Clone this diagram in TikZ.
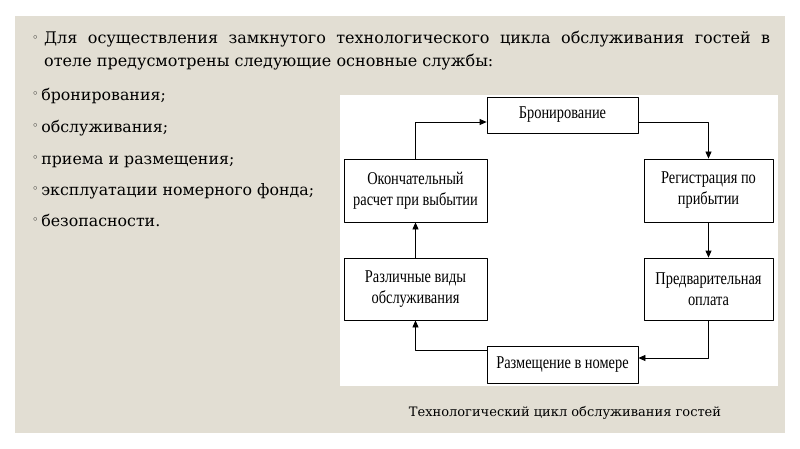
\documentclass[tikz,border=0pt]{standalone}
\usepackage{fontspec}
\setmainfont{DejaVu Serif}
\newfontfamily\boxfont[FakeStretch=0.8]{Liberation Serif}
\newfontfamily\bulletfont{DejaVu Sans}
\usetikzlibrary{arrows.meta, calc, positioning}
\definecolor{panelbeige}{RGB}{226,222,211}

\newcommand{\mybullet}{\raisebox{3pt}{\bulletfont\fontsize{11}{11}\selectfont ◦}}

\begin{document}
\begin{tikzpicture}[x=1pt, y=-1pt, line cap=round, line join=round, >={Triangle[length=7pt,width=6pt]},
	cycbox/.style={draw=black, line width=0.8pt, fill=white, inner sep=0pt, align=center,
		font=\boxfont\fontsize{18}{21}\selectfont},
	bulletline/.style={anchor=base west, inner sep=0pt, font=\fontsize{15.8}{15.8}\selectfont},
	cycarrow/.style={->, line width=0.8pt, black}]
	% page and panel
	\useasboundingbox (0,0) rectangle (800,449);
	\fill[white] (0,0) rectangle (800,449);
	\fill[panelbeige] (15,16) rectangle (785,433);
	
	% heading paragraph
	\node[anchor=base west, inner sep=0pt] (b0) at (32,45) {\mybullet};
	\node[anchor=north west, inner sep=0pt, text width=726pt, align=justify,
		font=\fontsize{16}{23}\selectfont] (head) at (44,31)
		{Для осуществления замкнутого технологического цикла обслуживания гостей в\linebreak отеле предусмотрены следующие основные службы:};
	
	% list of services
	\node[bulletline] (b1) at (32,101) {\mybullet\,бронирования;};
	\node[bulletline] (b2) at (32,133) {\mybullet\,обслуживания;};
	\node[bulletline] (b3) at (32,165) {\mybullet\,приема и размещения;};
	\node[bulletline] (b4) at (32,196) {\mybullet\,эксплуатации номерного фонда;};
	\node[bulletline] (b5) at (32,226) {\mybullet\,безопасности.};
	
	% white area of the scheme
	\fill[white] (340,95) rectangle (778,386);
	
	% boxes of the cycle
	\node[cycbox, minimum width=151pt, minimum height=36pt] (bron) at (562.5,115) {Бронирование};
	\node[cycbox, minimum width=129pt, minimum height=63pt] (reg) at (708.5,190.5) {Регистрация по\\прибытии};
	\node[cycbox, minimum width=129pt, minimum height=62pt] (pred) at (708.5,289) {Предварительная\\оплата};
	\node[cycbox, minimum width=151pt, minimum height=37pt] (razm) at (562.5,364.5) {Размещение в номере};
	\node[cycbox, minimum width=143pt, minimum height=62pt] (razl) at (415.5,289) {Различные виды\\обслуживания};
	\node[cycbox, minimum width=143pt, minimum height=63pt] (okon) at (415.5,190.5) {Окончательный\\расчет при выбытии};
	
	% connectors
	\coordinate (bronL) at ($(bron.west)+(0,7)$);
	\coordinate (bronR) at ($(bron.east)+(0,7)$);
	\coordinate (razmL) at ($(razm.west)+(0,-14)$);
	\coordinate (razmR) at ($(razm.east)+(0,-6.5)$);
	\draw[cycarrow] (bronR) -| (reg.north);
	\draw[cycarrow] (reg.south) -- (pred.north);
	\draw[cycarrow] (pred.south) |- (razmR);
	\draw[cycarrow] (razmL) -| (razl.south);
	\draw[cycarrow] (razl.north) -- (okon.south);
	\draw[cycarrow] (okon.north) |- (bronL);
	
	% caption
	\node[anchor=base, inner sep=0pt, font=\fontsize{13}{13}\selectfont] (cap) at (565,416)
		{Технологический цикл обслуживания гостей};
\end{tikzpicture}
\end{document}
